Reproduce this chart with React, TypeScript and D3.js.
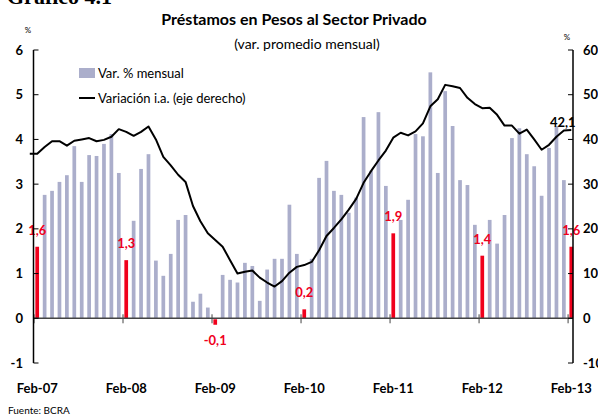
import React from "react";
import * as d3 from "d3";

// Monthly % change (left axis), Feb-07 .. Feb-13
const barValues: number[] = [
  1.6, 2.76, 2.85, 3.05, 3.2, 3.85, 3.05, 3.65, 3.63, 3.9, 4.12, 3.25,
  1.3, 2.18, 3.34, 3.67, 1.29, 0.95, 1.44, 2.2, 2.31, 0.37, 0.55, 0.24,
  -0.1, 0.97, 0.86, 0.8, 1.24, 1.17, 0.39, 1.09, 1.33, 1.33, 2.54, 1.44,
  0.2, 1.33, 3.14, 3.52, 2.85, 2.76, 2.36, 2.7, 4.5, 3.3, 4.61, 2.96,
  1.9, 2.2, 2.65, 4.12, 4.07, 5.5, 3.25, 5.08, 4.3, 3.09, 2.98, 2.09,
  1.4, 2.2, 1.67, 2.31, 4.03, 4.25, 3.67, 3.4, 2.74, 3.81, 4.3, 3.09,
  1.6,
];

// Year-over-year variation (right axis), Jan-07 .. Feb-13
const lineValues: number[] = [
  36.8,
  36.8, 38.3, 39.6, 39.6, 38.6, 39.7, 40.0, 40.3, 39.6, 39.9, 40.6, 42.3,
  41.7, 40.8, 41.7, 42.9, 40.0, 36.1, 34.2, 32.1, 30.5, 25.1, 21.7, 19.0,
  17.5, 16.0, 13.0, 10.0, 10.4, 10.7, 9.1, 8.0, 7.1, 8.3, 10.2, 11.5,
  11.9, 12.6, 15.2, 18.4, 20.2, 22.1, 24.3, 26.7, 30.3, 32.9, 35.3, 37.5,
  40.4, 41.5, 40.9, 41.8, 43.6, 47.4, 49.0, 52.2, 51.9, 51.5, 49.3, 47.9,
  47.0, 47.1, 45.5, 43.1, 43.1, 41.3, 42.2, 40.0, 37.7, 38.8, 40.6, 42.0,
  42.1,
];

const monthNames = ["Feb", "Mar", "Abr", "May", "Jun", "Jul", "Ago", "Sep", "Oct", "Nov", "Dic", "Ene"];
const categories: string[] = barValues.map((_, i) => `${monthNames[i % 12]}-${i}`);

const tickLabels: string[] = ["Feb-07", "Feb-08", "Feb-09", "Feb-10", "Feb-11", "Feb-12", "Feb-13"];
const redLabels: string[] = ["1,6", "1,3", "-0,1", "0,2", "1,9", "1,4", "1,6"];
const leftTicks: number[] = [-1, 0, 1, 2, 3, 4, 5, 6];
const rightTicks: number[] = [-10, 0, 10, 20, 30, 40, 50, 60];
const lastLabel = "42,1";

const FONT = "Lato, 'Open Sans', sans-serif";
const BAR = "#abaecb";
const RED = "#f0001c";

export default function App() {
  const W = 598, H = 418;
  const xL = 33.5, xR = 573;
  const x = d3.scaleBand<string>().domain(categories).range([33.5, 575]).paddingInner(0.5).paddingOuter(0.25);
  const step = x.step();
  const bw = x.bandwidth();
  const yL = d3.scaleLinear().domain([-1, 6]).range([363, 50]);
  const yR = d3.scaleLinear().domain([-10, 60]).range([363, 50]);
  const cx = (i: number) => (x(categories[0]) as number) + bw / 2 + i * step;
  const line = d3.line<number>().x((_, i) => cx(i - 1)).y((d) => yR(d));
  const febIdx = tickLabels.map((_, k) => k * 12);

  return (
    <svg width={W} height={H} style={{ position: "absolute", left: 0, top: 0, background: "#fff" }} fontFamily={FONT}>
      <text x={7} y={4} fontFamily="'Liberation Serif', serif" fontWeight="bold" fontSize={22}>Gráfico 4.1</text>
      <text x={294} y={25} textAnchor="middle" fontWeight="bold" fontSize={16}>Préstamos en Pesos al Sector Privado</text>
      <text x={307} y={49} textAnchor="middle" fontSize={14}>(var. promedio mensual)</text>
      <text x={28} y={33} textAnchor="middle" fontSize={8}>%</text>
      <text x={567} y={40} textAnchor="middle" fontSize={8}>%</text>

      {/* bars */}
      {barValues.map((v, i) => (
        <rect key={i} x={x(categories[i])} width={bw}
          y={v >= 0 ? yL(v) : yL(0) + 1}
          height={v >= 0 ? yL(0) - yL(v) : yL(v) - yL(0) + 1}
          fill={i % 12 === 0 ? RED : BAR} />
      ))}

      {/* zero axis */}
      <line x1={xL} x2={xR} y1={yL(0)} y2={yL(0)} stroke="#444" strokeWidth={1.5} />
      {febIdx.map((i) => {
        const tx = (x(categories[i]) as number) - step * 0.25 + 0.5;
        return <line key={i} x1={tx} x2={tx} y1={yL(0) - 4} y2={yL(0) + 5} stroke="#444" strokeWidth={1} />;
      })}

      {/* line */}
      <path d={line(lineValues) || ""} fill="none" stroke="#000" strokeWidth={2} strokeLinejoin="round" />

      {/* red labels */}
      {febIdx.map((i, k) => {
        const v = barValues[i];
        const ty = v >= 0 ? yL(v) - 12 : yL(v) + 22;
        return <text key={k} x={cx(i)} y={ty} textAnchor="middle" fill={RED} fontWeight="bold" fontSize={13}>{redLabels[k]}</text>;
      })}
      <text x={550} y={127} fontWeight="bold" fontSize={13}>{lastLabel}</text>

      {/* left axis */}
      <line x1={xL} x2={xL} y1={yL(6)} y2={yL(-1)} stroke="#000" strokeWidth={1.5} />
      {leftTicks.map((t) => (
        <g key={t}>
          <line x1={xL} x2={xL + 5} y1={yL(t)} y2={yL(t)} stroke="#000" strokeWidth={1} />
          <text x={23} y={yL(t)} dy="0.35em" textAnchor="end" fontWeight="bold" fontSize={13}>{t}</text>
        </g>
      ))}

      {/* right axis */}
      <line x1={xR} x2={xR} y1={yR(60)} y2={yR(-10)} stroke="#000" strokeWidth={1.5} />
      {rightTicks.map((t) => (
        <g key={t}>
          <line x1={xR - 5} x2={xR} y1={yR(t)} y2={yR(t)} stroke="#000" strokeWidth={1} />
          <text x={583} y={yR(t)} dy="0.35em" fontWeight="bold" fontSize={13}>{t}</text>
        </g>
      ))}

      {/* x labels */}
      {febIdx.map((i, k) => (
        <text key={k} x={cx(i)} y={393} textAnchor="middle" fontWeight="bold" fontSize={13}>{tickLabels[k]}</text>
      ))}

      {/* legend */}
      <rect x={79} y={68} width={16} height={10} fill={BAR} />
      <text x={98} y={78} fontSize={13}>Var. % mensual</text>
      <line x1={79} x2={95} y1={98} y2={98} stroke="#000" strokeWidth={2} />
      <text x={98} y={103} fontSize={13}>Variación i.a. (eje derecho)</text>

      <text x={8} y={414} fontSize={10}>Fuente: BCRA</text>
    </svg>
  );
}
